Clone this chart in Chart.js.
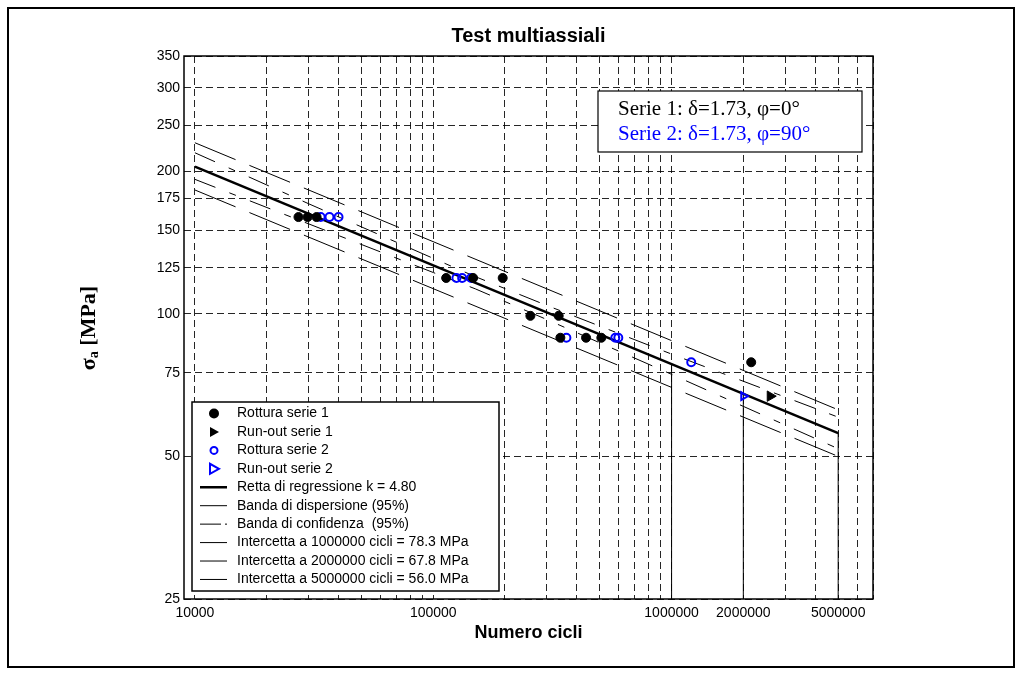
<!DOCTYPE html>
<html>
<head>
<meta charset="utf-8">
<title>Test multiassiali</title>
<script src="https://cdn.jsdelivr.net/npm/chart.js@4.4.1/dist/chart.umd.min.js"></script>
<style>
    html, body { margin: 0; padding: 0; background: #fff; }
    canvas { display: block; }
</style>
</head>
<body>
<canvas id="snChart" width="1022" height="674"></canvas>
<script>
/**
 * Test multiassiali - curva S-N in scala log-log
 */

// Rottura serie 1 (cerchi pieni neri)
const rotturaS1Cicli = [27200, 29700, 32400, 113300, 147000, 195600, 255600, 336000, 341500, 437700, 507300, 2158000];
const rotturaS1Sigma = [160, 160, 160, 119, 119, 119, 99, 99, 89, 89, 89, 79];

// Run-out serie 1
const runoutS1Cicli = [2594000];
const runoutS1Sigma = [67];

// Rottura serie 2 (cerchi vuoti blu)
const rotturaS2Cicli = [33700, 36700, 40050, 125100, 132200, 144200, 361900, 580700, 597700, 1209000];
const rotturaS2Sigma = [160, 160, 160, 119, 119, 119, 89, 89, 89, 79];

// Run-out serie 2
const runoutS2Cicli = [2004000];
const runoutS2Sigma = [67];

// Retta di regressione
const kRegressione = 4.80;
const regrCicli = [10000, 5000000];
const regrSigma = [204.4, 56.0];

// Banda di dispersione (95%)
const dispCicli = [10000, 5000000];
const dispSup = [229.6, 62.7];
const dispInf = [182.5, 50.0];

// Banda di confidenza (95%)
const confCicli = [10000, 30000, 100000, 150000, 300000, 1000000, 5000000];
const confSup = [218.7, 170.7, 130.9, 119.8, 104.1, 82.2, 60.5];
const confInf = [192.2, 154.8, 122.2, 112.9, 97.2, 74.5, 51.9];

// Intercette
const intercCicli = [1000000, 2000000, 5000000];
const intercSigma = [78.3, 67.8, 56.0];

// Assi
const xTicks = [10000, 20000, 30000, 40000, 50000, 60000, 70000, 80000, 90000,
    100000, 200000, 300000, 400000, 500000, 600000, 700000, 800000, 900000,
    1000000, 2000000, 3000000, 4000000, 5000000, 6000000, 7000000];
const xLabels = [10000, 100000, 1000000, 2000000, 5000000];
const yTicks = [25, 50, 75, 100, 125, 150, 175, 200, 250, 300, 350];

const serieLines = ['Serie 1: δ=1.73, φ=0°', 'Serie 2: δ=1.73, φ=90°'];
const serieColors = ['#000000', '#0000ff'];

const legendLabels = [
    'Rottura serie 1',
    'Run-out serie 1',
    'Rottura serie 2',
    'Run-out serie 2',
    `Retta di regressione k = ${kRegressione.toFixed(2)}`,
    'Banda di dispersione (95%)',
    'Banda di confidenza  (95%)',
    ...intercCicli.map((n, i) => `Intercetta a ${n} cicli = ${intercSigma[i].toFixed(1)} MPa`)
];

const BLUE = '#0000ff';
const SANS = '"Liberation Sans", Arial, sans-serif';
const SERIF = '"Liberation Serif", "Times New Roman", serif';
const DISP_DASH = [44, 15];
const CONF_DASH = [22, 15, 7, 15];
const GRID_COLOR = 'rgba(0,0,0,0.85)';

function pts(xs, ys) {
    return xs.map((x, i) => ({ x: x, y: ys[i] }));
}

function lineSet(data, width, dash) {
    return {
        data: data,
        showLine: true,
        borderColor: '#000',
        borderWidth: width,
        borderDash: dash || [],
        pointRadius: 0,
        fill: false,
        tension: 0
    };
}

const datasets = [
    {
        data: pts(rotturaS1Cicli, rotturaS1Sigma),
        pointStyle: 'circle', pointRadius: 4.5,
        backgroundColor: '#000', borderColor: '#000', borderWidth: 1
    },
    {
        data: pts(rotturaS2Cicli, rotturaS2Sigma),
        pointStyle: 'circle', pointRadius: 4,
        backgroundColor: 'rgba(0,0,0,0)', borderColor: BLUE, borderWidth: 2
    },
    {
        data: pts(runoutS1Cicli, runoutS1Sigma),
        pointStyle: 'triangle', rotation: 90, pointRadius: 6,
        backgroundColor: '#000', borderColor: '#000', borderWidth: 1
    },
    {
        data: pts(runoutS2Cicli, runoutS2Sigma),
        pointStyle: 'triangle', rotation: 90, pointRadius: 4.5,
        backgroundColor: 'rgba(0,0,0,0)', borderColor: BLUE, borderWidth: 2
    },
    lineSet(pts(regrCicli, regrSigma), 2.5),
    lineSet(pts(dispCicli, dispSup), 1, DISP_DASH),
    lineSet(pts(dispCicli, dispInf), 1, DISP_DASH),
    lineSet(pts(confCicli, confSup), 1, CONF_DASH),
    lineSet(pts(confCicli, confInf), 1, CONF_DASH),
    ...intercCicli.map((n, i) => lineSet(pts([n, n], [yTicks[0], intercSigma[i]]), 1))
];

// Legend symbol
function drawSymbol(ctx, i, cx, cy) {
    ctx.save();
    ctx.setLineDash([]);
    if (i === 0) {
        ctx.fillStyle = '#000';
        ctx.beginPath(); ctx.arc(cx, cy, 5, 0, Math.PI * 2); ctx.fill();
    } else if (i === 1 || i === 3) {
        ctx.beginPath();
        ctx.moveTo(cx + 5, cy); ctx.lineTo(cx - 4, cy - 5); ctx.lineTo(cx - 4, cy + 5); ctx.closePath();
        if (i === 1) { ctx.fillStyle = '#000'; ctx.fill(); }
        else { ctx.strokeStyle = BLUE; ctx.lineWidth = 2; ctx.stroke(); }
    } else if (i === 2) {
        ctx.strokeStyle = BLUE; ctx.lineWidth = 2;
        ctx.beginPath(); ctx.arc(cx, cy, 3.5, 0, Math.PI * 2); ctx.stroke();
    } else {
        ctx.strokeStyle = '#000';
        ctx.lineWidth = i === 4 ? 2.5 : 1;
        ctx.beginPath();
        if (i === 6) {
            ctx.moveTo(cx - 14, cy); ctx.lineTo(cx + 7, cy);
            ctx.moveTo(cx + 11, cy); ctx.lineTo(cx + 13, cy);
        } else {
            ctx.moveTo(cx - 14, cy); ctx.lineTo(cx + 13, cy);
        }
        ctx.stroke();
    }
    ctx.restore();
}

const decorPlugin = {
    id: 'decor',
    afterDraw(chart) {
        const ctx = chart.ctx;
        const a = chart.chartArea;
        const midX = (a.left + a.right) / 2;
        ctx.save();

        // Plot frame
        ctx.strokeStyle = '#000';
        ctx.lineWidth = 1.5;
        ctx.strokeRect(a.left, a.top, a.right - a.left, a.bottom - a.top);

        // Figure frame
        ctx.lineWidth = 2;
        ctx.strokeRect(8, 8, 1006, 659);

        // Title
        ctx.fillStyle = '#000';
        ctx.textAlign = 'center';
        ctx.textBaseline = 'middle';
        ctx.font = 'bold 20px ' + SANS;
        ctx.fillText('Test multiassiali', midX, 36.5);

        // X axis title
        ctx.font = 'bold 18px ' + SANS;
        ctx.fillText('Numero cicli', midX, 633);

        // Y axis title: sigma_a [MPa]
        ctx.save();
        ctx.translate(89, 328);
        ctx.rotate(-Math.PI / 2);
        ctx.textAlign = 'left';
        ctx.textBaseline = 'middle';
        const fBig = 'bold 22px ' + SERIF, fSub = 'bold 14px ' + SERIF;
        ctx.font = fBig; const w1 = ctx.measureText('σ').width;
        ctx.font = fSub; const w2 = ctx.measureText('a').width;
        ctx.font = fBig; const w3 = ctx.measureText(' [MPa]').width;
        let px = -(w1 + w2 + w3) / 2;
        ctx.fillText('σ', px, 0); px += w1;
        ctx.font = fSub; ctx.fillText('a', px, 5); px += w2;
        ctx.font = fBig; ctx.fillText(' [MPa]', px, 0);
        ctx.restore();

        // Serie box
        ctx.fillStyle = '#fff';
        ctx.fillRect(598, 91, 264, 61);
        ctx.lineWidth = 1.2;
        ctx.strokeRect(598, 91, 264, 61);
        ctx.font = '21px ' + SERIF;
        ctx.textAlign = 'left';
        serieLines.forEach((t, i) => {
            ctx.fillStyle = serieColors[i];
            ctx.fillText(t, 618, 109.5 + i * 25);
        });

        // Legend box
        ctx.fillStyle = '#fff';
        ctx.fillRect(192, 402, 307, 189);
        ctx.lineWidth = 1.5;
        ctx.strokeRect(192, 402, 307, 189);
        ctx.font = '14px ' + SANS;
        legendLabels.forEach((t, i) => {
            const cy = 413.5 + i * 18.44;
            drawSymbol(ctx, i, 214, cy);
            ctx.fillStyle = '#000';
            ctx.fillText(t, 237, cy);
        });

        ctx.restore();
    }
};

const tickFont = { family: SANS, size: 14 };

new Chart(document.getElementById('snChart').getContext('2d'), {
    type: 'scatter',
    data: { datasets: datasets },
    options: {
        responsive: false,
        animation: false,
        layout: { padding: { left: 0, right: 149, top: 56, bottom: 0 } },
        plugins: {
            legend: { display: false },
            tooltip: { enabled: false },
            title: { display: false }
        },
        scales: {
            x: {
                type: 'logarithmic',
                min: 9000,
                max: 7000000,
                afterBuildTicks: s => { s.ticks = xTicks.map(v => ({ value: v })); },
                afterFit: s => { s.height = 75; },
                ticks: {
                    autoSkip: false,
                    maxRotation: 0,
                    padding: 6,
                    color: '#000',
                    font: tickFont,
                    callback: v => xLabels.includes(v) ? String(v) : ''
                },
                grid: { color: GRID_COLOR, lineWidth: 1, drawTicks: false },
                border: { display: false, dash: [7, 4] }
            },
            y: {
                type: 'logarithmic',
                min: 25,
                max: 350,
                afterBuildTicks: s => { s.ticks = yTicks.map(v => ({ value: v })); },
                afterFit: s => { s.width = 184; },
                ticks: {
                    padding: 4,
                    color: '#000',
                    font: tickFont,
                    callback: v => String(v)
                },
                grid: { color: GRID_COLOR, lineWidth: 1, drawTicks: false },
                border: { display: false, dash: [7, 4] }
            }
        }
    },
    plugins: [decorPlugin]
});
</script>
</body>
</html>
